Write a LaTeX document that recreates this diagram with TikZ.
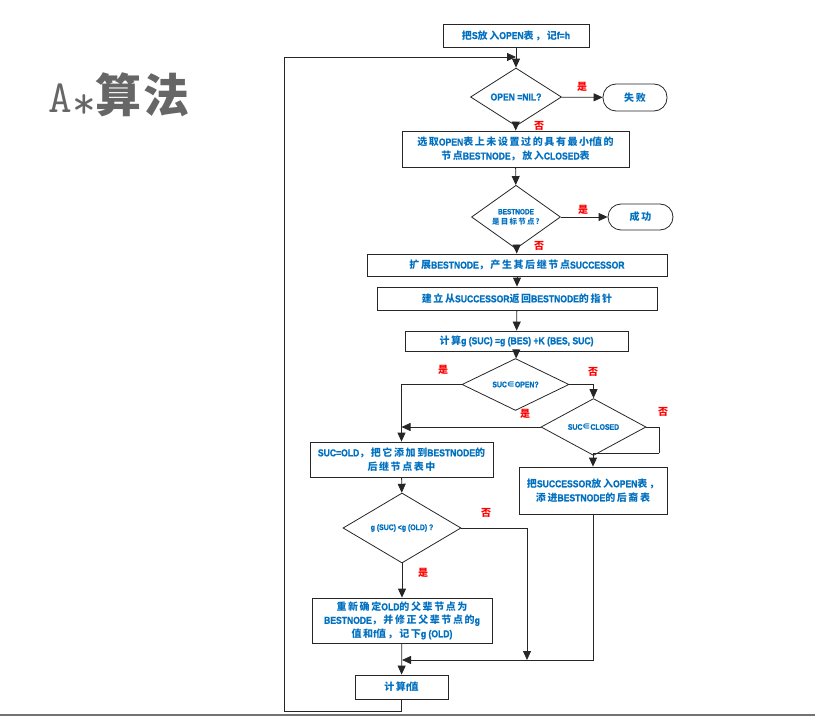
\documentclass[tikz,border=0pt]{standalone}
\usepackage{fontspec}
\setmainfont{Noto Sans CJK SC}[LetterSpace=16]
\newfontfamily\latfnt{Liberation Sans}[FakeStretch=0.86, FakeBold=1.6, BoldFont={Liberation Sans Bold}, BoldFeatures={FakeStretch=0.86, FakeBold=1.2}]
\newfontfamily\titlefnt{Latin Modern Mono}
\usetikzlibrary{shapes.geometric,arrows.meta,shadows}
\newcommand\latn[1]{{\latfnt\bfseries #1}}
\definecolor{myblue}{HTML}{0070C0}
\definecolor{myred}{HTML}{FF0000}
\definecolor{titlegray}{HTML}{666666}
\tikzset{
  line/.style={draw=black!85, line width=0.8pt},
  arr/.style={line, -{Triangle[length=9pt,width=8pt]}},
  base/.style={draw=black!85, line width=0.8pt, fill=white, inner sep=1pt, align=center,
               text=myblue, font=\bfseries\fontsize{10}{14}\selectfont},
  proc/.style={base, rectangle, drop shadow={shadow xshift=1.2pt, shadow yshift=-1.2pt, fill=black!35, opacity=1}},
  term/.style={base, rectangle, rounded corners=13pt},
  dec/.style={base, diamond, inner sep=0pt},
  lbl/.style={text=myred, font=\bfseries\fontsize{10}{12}\selectfont, inner sep=0pt}
}
\begin{document}
\begin{tikzpicture}[x=1pt,y=-1pt]
\useasboundingbox (0,0) rectangle (815,717);
% title
\node[text=titlegray, inner sep=0pt] (title) at (119,96)
  {\fontsize{46}{46}\selectfont{\titlefnt A\raisebox{-6pt}{*}}\addfontfeature{LetterSpace=4}\bfseries 算法};
% bottom rule
\draw[draw=black!55, line width=1.6pt] (0,715) coordinate (rl) -- (815,715) coordinate (rr);

% nodes
\node[proc, minimum width=146pt, minimum height=23pt] (b1) at (516,35.5)
  {把\latn{S}放入\latn{OPEN}表，记\latn{f=h}};
\node[dec, minimum width=91pt, minimum height=40pt] (d1) at (516,97)
  {\latn{OPEN =NIL?}};
\node[term, minimum width=64pt, minimum height=27pt] (fail) at (635,97.5) {失败};
\node[proc, minimum width=227pt, minimum height=36pt] (b2) at (515.5,149)
  {选取\latn{OPEN}表上未设置过的具有最小\latn{f}值的\\节点\latn{BESTNODE}，放入\latn{CLOSED}表};
\node[dec, minimum width=89pt, minimum height=44pt, font=\bfseries\fontsize{7.5}{10}\selectfont] (d2) at (516,217)
  {\latn{BESTNODE}\\是目标节点?};
\node[term, minimum width=65pt, minimum height=26pt] (succ) at (640.5,217) {成功};
\node[proc, minimum width=300pt, minimum height=22pt] (b3) at (517,265)
  {扩展\latn{BESTNODE}，产生其后继节点\latn{SUCCESSOR}};
\node[proc, minimum width=280pt, minimum height=23pt] (b4) at (517,298.5)
  {建立从\latn{SUCCESSOR}返回\latn{BESTNODE}的指针};
\node[proc, minimum width=223pt, minimum height=20pt] (b5) at (516.5,341)
  {计算\latn{g (SUC) =g (BES) +K (BES, SUC)}};
\node[dec, minimum width=107pt, minimum height=35pt, font=\bfseries\fontsize{8}{10}\selectfont] (d3) at (515.5,384.5)
  {\latn{SUC}∈\latn{OPEN?}};
\node[dec, minimum width=105pt, minimum height=34pt, font=\bfseries\fontsize{8}{10}\selectfont] (d4) at (593.5,427)
  {\latn{SUC}∈\latn{CLOSED}};
\node[proc, minimum width=183pt, minimum height=35pt] (b6) at (401.5,459.5)
  {\latn{SUC=OLD}，把它添加到\latn{BESTNODE}的\\后继节点表中};
\node[proc, minimum width=148pt, minimum height=47pt] (b7) at (593,490.5)
  {把\latn{SUCCESSOR}放入\latn{OPEN}表，\\添进\latn{BESTNODE}的后裔表};
\node[dec, minimum width=118pt, minimum height=40pt, font=\bfseries\fontsize{8}{10}\selectfont] (d5) at (402,528)
  {\latn{g (SUC) <g (OLD) ?}};
\node[proc, minimum width=180pt, minimum height=45pt, font=\bfseries\fontsize{10}{13.5}\selectfont] (b8) at (402,620.5)
  {重新确定\latn{OLD}的父辈节点为\\\latn{BESTNODE}，并修正父辈节点的\latn{g}\\值和\latn{f}值，记下\latn{g (OLD)}};
\node[proc, minimum width=93pt, minimum height=24pt] (b9) at (401.5,687) {计算\latn{f}值};

% helper coordinates
\coordinate (top) at (516,57);
\coordinate (lp) at (284,711);
\coordinate (rj) at (659,453);
\coordinate (jn) at (527,660);
\coordinate (mg) at (402,660);

% connectors
\draw[arr] (b1) -- (d1);
\draw[arr] (d1) -- (fail);
\draw[arr] (d1) -- (b2);
\draw[arr] (b2) -- (d2);
\draw[arr] (d2) -- (succ);
\draw[arr] (d2) -- (b3);
\draw[arr] (b3) -- (b4);
\draw[arr] (b4) -- (b5);
\draw[arr] (b5) -- (d3);
\draw[arr] (d3.west) -| (b6.north);
\draw[arr] (d3.east) -| (d4.north);
\draw[arr] (d4.west) -- (b6.north |- d4.west);
\draw[line] (d4.east) -| (rj);
\draw[arr] (rj) -| (b7.north);
\draw[arr] (b6) -- (d5);
\draw[arr] (d5) -- (b8);
\draw[arr] (d5.east) -| (jn);
\draw[arr] (b7.south) |- (mg);
\draw[arr] (b8) -- (b9);
\draw[arr] (b9.south) |- (lp) |- (top);

% labels
\node[lbl] (l1) at (582,87) {是};
\node[lbl] (l2) at (539,126) {否};
\node[lbl] (l3) at (583,210) {是};
\node[lbl] (l4) at (539,246) {否};
\node[lbl] (l5) at (443,370) {是};
\node[lbl] (l6) at (593,372) {否};
\node[lbl] (l7) at (525,414) {是};
\node[lbl] (l8) at (663,412) {否};
\node[lbl] (l9) at (486,513) {否};
\node[lbl] (l10) at (423,573) {是};
\end{tikzpicture}
\end{document}
